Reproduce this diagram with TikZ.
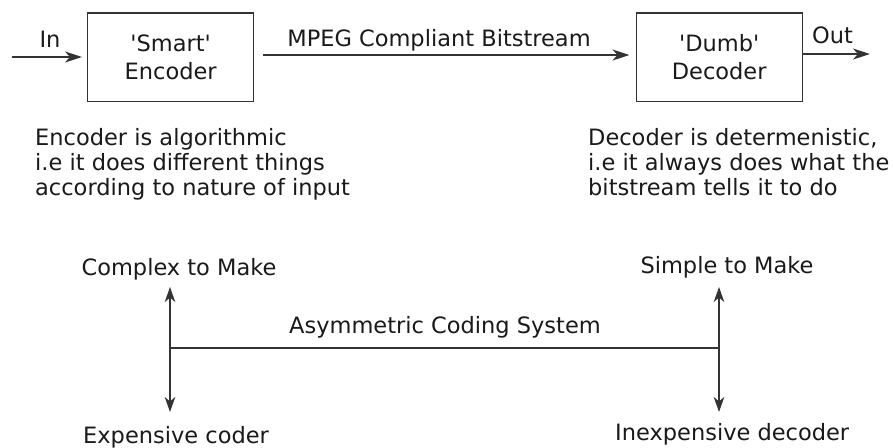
\documentclass[tikz,border=0pt]{standalone}
\usepackage{fontspec}
\setmainfont{DejaVu Sans}
\usetikzlibrary{arrows.meta}
\definecolor{ln}{HTML}{333333}
\definecolor{tx}{HTML}{1A1A1A}
\newcommand{\sq}{\textquotesingle}
\begin{document}
\begin{tikzpicture}[x=1pt,y=-1pt,
  txt/.style={inner sep=0pt,text=tx,font=\fontsize{22.5}{25}\selectfont},
  blk/.style={draw=ln,line width=1.4pt,minimum width=166pt,minimum height=88.5pt,inner sep=0pt,anchor=north west,align=center,text=tx,font=\fontsize{22.5}{28}\selectfont},
  con/.style={draw=ln,line width=1.8pt,-{Stealth[length=17pt,width=11pt,inset=5pt]}},
  dbl/.style={draw=ln,line width=1.8pt,{Stealth[length=15pt,width=10.5pt,inset=4.5pt]}-{Stealth[length=15pt,width=10.5pt,inset=4.5pt]}},
  seg/.style={draw=ln,line width=1.8pt}]
\useasboundingbox (0,0) rectangle (893,447);
\fill[white] (0,0) rectangle (893,447);
% boxes
\node[blk] (enc) at (87,12.3) {\sq Smart\sq\\Encoder};
\node[blk] (dec) at (635.5,12.3) {\sq Dumb\sq\\Decoder};
% top labels
\node[txt,anchor=base] (inl) at (50,47) {In};
\node[txt,anchor=base] (mpeg) at (439,46.7) {MPEG Compliant Bitstream};
\node[txt,anchor=base west] (outl) at (812,43) {Out};
% top connectors
\coordinate (inS) at (12,57);
\coordinate (outE) at (870,54);
\draw[con] (inS) -- (82,57);
\draw[con] ([xshift=9pt]enc.east |- 0,55) -- ([xshift=-6pt]dec.west |- 0,55);
\draw[con] (dec.east |- outE) -- (outE);
% descriptions
\node[txt,anchor=base west] (ed1) at (35,145.7) {Encoder is algorithmic};
\node[txt,anchor=base west] (ed2) at (35,170.7) {i.e it does different things};
\node[txt,anchor=base west] (ed3) at (35,195.7) {according to nature of input};
\node[txt,anchor=base west] (dd1) at (588,145.7) {Decoder is determenistic,};
\node[txt,anchor=base west] (dd2) at (588,170.7) {i.e it always does what the};
\node[txt,anchor=base west] (dd3) at (588,195.7) {bitstream tells it to do};
% bottom
\node[txt,anchor=base] (cm) at (179,275) {Complex to Make};
\node[txt,anchor=base] (sm) at (727,273) {Simple to Make};
\node[txt,anchor=base] (ac) at (445,333) {Asymmetric Coding System};
\node[txt,anchor=base west] (ex) at (83,443) {Expensive coder};
\node[txt,anchor=base west] (ie) at (615,440) {Inexpensive decoder};
\coordinate (LT) at (170,287);
\coordinate (LB) at (170,412);
\coordinate (LM) at (170,348);
\coordinate (RT) at (719,287);
\coordinate (RB) at (719,412);
\coordinate (RM) at (719,348);
\draw[dbl] (LT) -- (LB);
\draw[dbl] (RT) -- (RB);
\draw[seg] (LM) -- (RM);
\end{tikzpicture}
\end{document}
